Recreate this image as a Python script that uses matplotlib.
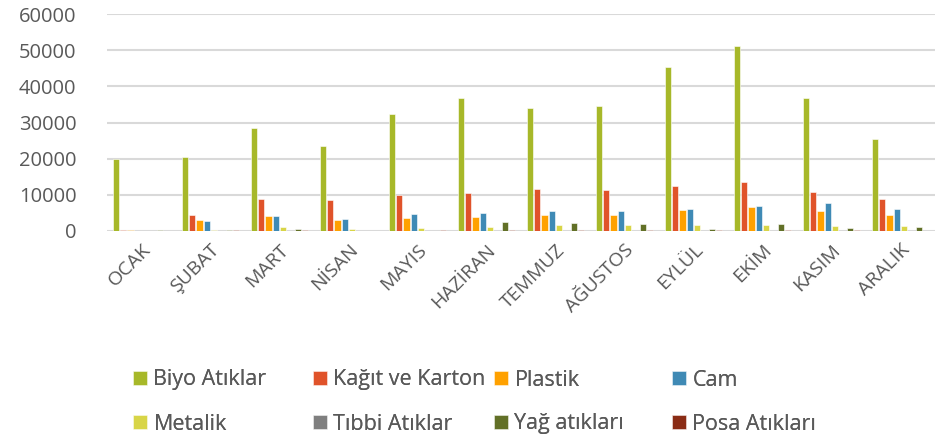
import numpy as np
import matplotlib
matplotlib.use("Agg")
import matplotlib.pyplot as plt

plt.rcParams.update({
    "font.family": ["Open Sans", "DejaVu Sans"],
    "font.size": 11,
})
INK = "#595959"

months = ["OCAK", "ŞUBAT", "MART", "NİSAN", "MAYIS", "HAZİRAN", "TEMMUZ",
          "AĞUSTOS", "EYLÜL", "EKİM", "KASIM", "ARALIK"]
series_names = ["Biyo Atıklar", "Kağıt ve Karton", "Plastik", "Cam",
                "Metalik", "Tıbbi Atıklar", "Yağ atıkları", "Posa Atıkları"]
colors = ["#a7b829", "#e0532a", "#ffa100", "#3f8ab5",
          "#d8d547", "#7f7f7f", "#627027", "#8a2c15"]

biyo    = [20000, 20500, 28500, 23500, 32400, 36700, 34000, 34600, 45400, 51200, 36700, 25500]
kagit   = [400, 4400, 8800, 8600, 9900, 10600, 11500, 11300, 12500, 13600, 10800, 8900]
plastik = [300, 3100, 4200, 3100, 3600, 3800, 4400, 4300, 5800, 6700, 5600, 4500]
cam     = [0, 2700, 4200, 3200, 4700, 5000, 5600, 5500, 6100, 6800, 7800, 6100]
metalik = [0, 300, 1000, 600, 700, 1000, 1700, 1700, 1700, 1700, 1400, 1500]
tibbi   = [0, 0, 0, 0, 0, 0, 0, 0, 0, 0, 0, 0]
yag     = [300, 300, 600, 0, 0, 2500, 2300, 1900, 650, 1900, 800, 1000]
posa    = [0, 300, 300, 0, 200, 300, 300, 300, 300, 300, 300, 0]
series = [biyo, kagit, plastik, cam, metalik, tibbi, yag, posa]

W, H = 938, 441
fig = plt.figure(figsize=(W / 100, H / 100), dpi=100)
ax = fig.add_axes([107 / W, 1 - 231 / H, 828 / W, 217 / H])

x = np.arange(len(months))
step = 0.106
w = 0.092
handles = []
for i, (vals, c, name) in enumerate(zip(series, colors, series_names)):
    b = ax.bar(x + (i - 3.5) * step, vals, width=w, color=c, edgecolor="white",
               linewidth=0.4, label=name, zorder=3)
    handles.append(b)

ax.set_xlim(-0.5, len(months) - 0.5)
ax.set_ylim(0, 60000)
ax.set_yticks(np.arange(0, 60001, 10000))
ax.set_yticklabels([str(v) for v in range(0, 60001, 10000)], fontsize=14.5, color=INK)
ax.set_xticks(x)
ax.set_xticklabels(months, rotation=45, ha="right", rotation_mode="anchor",
                   fontsize=14, color=INK)
ax.tick_params(length=0, pad=7)
ax.tick_params(axis="y", pad=22)
for s in ax.spines.values():
    s.set_visible(False)
ax.yaxis.grid(True, color="#d9d9d9", lw=1.5, zorder=0)
ax.set_axisbelow(True)

# legend: 4 columns x 2 rows, evenly spaced like the original
col_x = [133, 313, 494, 672]
row_y = [380, 424]
for i, (h, name) in enumerate(zip(handles, series_names)):
    cx, ry = col_x[i % 4], row_y[i // 4]
    leg = fig.legend([h], [name], loc="center left",
                     bbox_to_anchor=(cx / W, 1 - ry / H), frameon=False,
                     fontsize=15.5, handlelength=0.65, handleheight=0.65,
                     handletextpad=0.3, borderpad=0, borderaxespad=0)
    for t in leg.get_texts():
        t.set_color(INK)
    fig.add_artist(leg)

fig.savefig("out.png", dpi=100)
